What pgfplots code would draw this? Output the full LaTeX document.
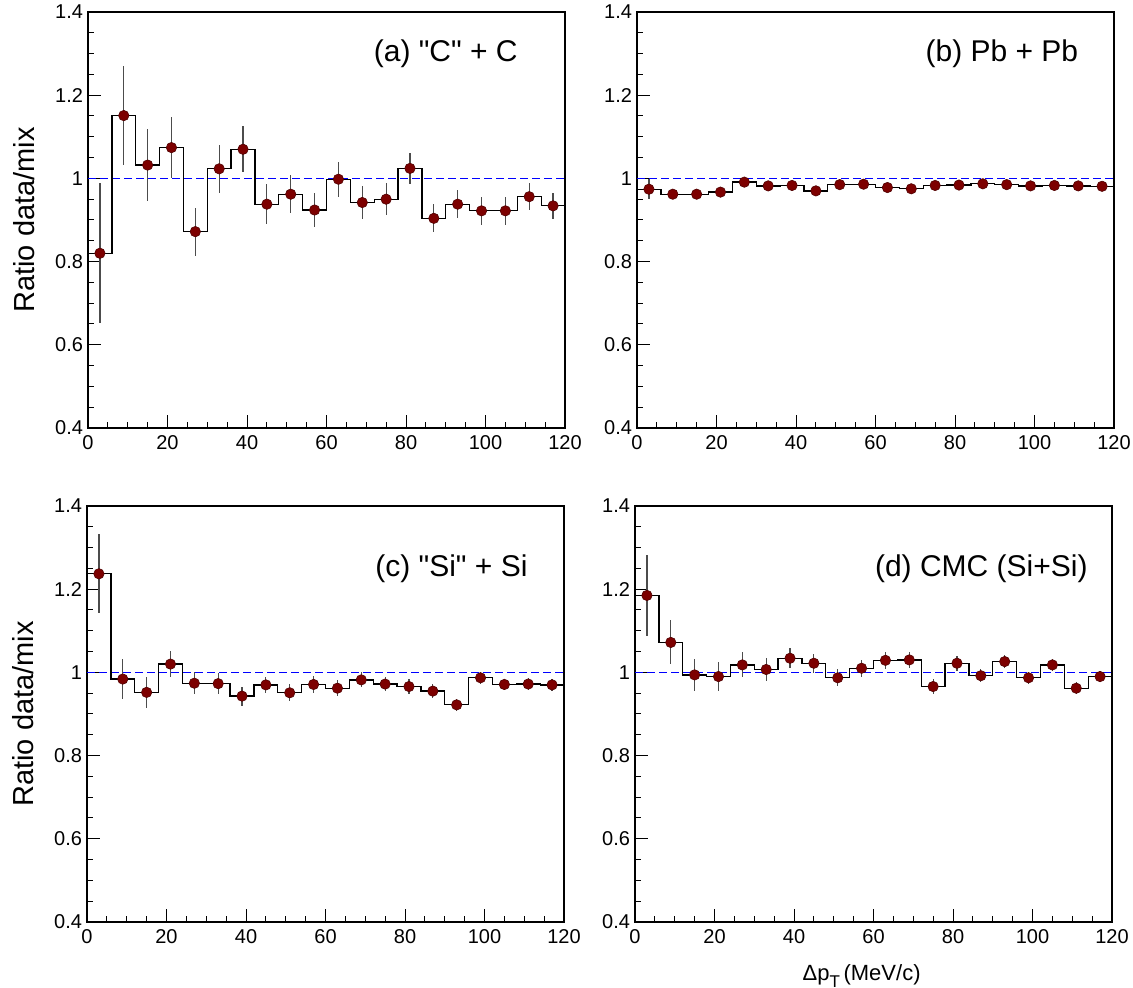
\documentclass[border=0pt]{standalone}
\usepackage{pgfplots}
\usepackage{pgfplotstable}
\pgfplotsset{compat=1.18}
\usepackage{fontspec}
\setmainfont{Liberation Sans}
\definecolor{ptred}{RGB}{125,0,0}
\definecolor{ptedge}{RGB}{80,0,0}
\font\pq="Liberation Sans" at 15pt
\newcommand{\dq}{{\pq"}}

\pgfplotstableread{
lo y e
0 0.820 0.168
6 1.151 0.120
12 1.032 0.086
18 1.074 0.073
24 0.872 0.058
30 1.023 0.058
36 1.070 0.055
42 0.938 0.048
48 0.962 0.045
54 0.924 0.042
60 0.998 0.042
66 0.942 0.040
72 0.950 0.038
78 1.024 0.038
84 0.904 0.034
90 0.938 0.034
96 0.922 0.033
102 0.922 0.033
108 0.956 0.032
114 0.934 0.031
120 0.934 0
}\dataA

\pgfplotstableread{
lo y e
0 0.974 0.024
6 0.962 0.006
12 0.962 0.006
18 0.967 0.006
24 0.991 0.006
30 0.982 0.005
36 0.983 0.005
42 0.970 0.005
48 0.985 0.005
54 0.986 0.005
60 0.978 0.005
66 0.975 0.005
72 0.983 0.005
78 0.984 0.005
84 0.987 0.005
90 0.985 0.005
96 0.982 0.005
102 0.983 0.005
108 0.982 0.005
114 0.981 0.005
120 0.981 0
}\dataB

\pgfplotstableread{
lo y e
0 1.237 0.095
6 0.984 0.048
12 0.952 0.037
18 1.020 0.032
24 0.974 0.027
30 0.973 0.025
36 0.943 0.023
42 0.970 0.020
48 0.951 0.020
54 0.971 0.020
60 0.962 0.019
66 0.982 0.018
72 0.972 0.017
78 0.966 0.017
84 0.955 0.016
90 0.922 0.015
96 0.987 0.015
102 0.971 0.014
108 0.972 0.014
114 0.970 0.014
120 0.970 0
}\dataC

\pgfplotstableread{
lo y e
0 1.185 0.097
6 1.072 0.053
12 0.994 0.039
18 0.990 0.034
24 1.018 0.030
30 1.007 0.027
36 1.034 0.024
42 1.022 0.023
48 0.987 0.020
54 1.010 0.020
60 1.029 0.020
66 1.030 0.020
72 0.966 0.017
78 1.022 0.018
84 0.992 0.015
90 1.026 0.016
96 0.987 0.015
102 1.018 0.015
108 0.962 0.014
114 0.990 0.013
120 0.990 0
}\dataD

\pgfplotsset{
  rootstyle/.style={
    scale only axis,
    width=238.5pt, height=208pt,
    anchor=south west,
    xmin=0, xmax=120, ymin=0.4, ymax=1.4,
    xtick={0,20,...,120}, ytick={0.4,0.6,...,1.41},
    minor x tick num=3, minor y tick num=3,
    tick align=inside, tick pos=left,
    major tick length=6.5pt, minor tick length=3.2pt,
    every tick/.style={black, line width=0.5pt},
    axis line style={line width=0.6pt},
    /pgf/number format/assume math mode=true,
    /pgf/number format/fixed,
    ticklabel style={font=\fontsize{10}{12}\selectfont},
    yticklabel style={xshift=1pt},
    ylabel style={font=\fontsize{14.5}{17}\selectfont, at={(axis description cs:-0.134,0.5)}, anchor=center},
    clip=true,
  },
  hist/.style={const plot mark left, black, line width=0.65pt, no marks},
  pts/.style={only marks, mark=*, mark size=2.6pt,
    mark options={fill=ptred, draw=ptedge, line width=0.3pt},
    skip coords between index={20}{21},
    error bars/.cd, y dir=both, y explicit, error mark=none,
    error bar style={line width=0.6pt, black!70}},
  unity/.style={color=blue, line width=0.8pt, dash pattern=on 4pt off 2pt, no marks},
}

\begin{document}
\begin{tikzpicture}
\path[use as bounding box] (0pt,0pt) rectangle (566.5pt,494pt);

% (a)
\begin{axis}[rootstyle, at={(44pt,280pt)}, ylabel={Ratio data/mix}]
\addplot[unity] coordinates {(0,1) (120,1)};
\addplot[hist] table[x=lo,y=y]{\dataA};
\addplot[pts] table[x expr=\thisrow{lo}+3, y=y, y error=e]{\dataA};
\node[font=\fontsize{15}{18}\selectfont] at (axis description cs:0.75,0.90) {(a) \dq C\dq\ + C};
\end{axis}

% (b)
\begin{axis}[rootstyle, at={(318.5pt,280pt)}]
\addplot[unity] coordinates {(0,1) (120,1)};
\addplot[hist] table[x=lo,y=y]{\dataB};
\addplot[pts] table[x expr=\thisrow{lo}+3, y=y, y error=e]{\dataB};
\node[font=\fontsize{15}{18}\selectfont] at (axis description cs:0.765,0.90) {(b) Pb + Pb};
\end{axis}

% (c)
\begin{axis}[rootstyle, at={(43.5pt,33pt)}, ylabel={Ratio data/mix}]
\addplot[unity] coordinates {(0,1) (120,1)};
\addplot[hist] table[x=lo,y=y]{\dataC};
\addplot[pts] table[x expr=\thisrow{lo}+3, y=y, y error=e]{\dataC};
\node[font=\fontsize{15}{18}\selectfont] at (axis description cs:0.764,0.849) {(c) \dq Si\dq\ + Si};
\end{axis}

% (d)
\begin{axis}[rootstyle, at={(317.5pt,33pt)},
  xlabel={\fontsize{11}{13}\selectfont Δp\raisebox{-0.55ex}{\fontsize{8.5}{10}\selectfont T}\,(MeV/c)},
  xlabel style={at={(axis description cs:0.475,-0.13)}, anchor=center}]
\addplot[unity] coordinates {(0,1) (120,1)};
\addplot[hist] table[x=lo,y=y]{\dataD};
\addplot[pts] table[x expr=\thisrow{lo}+3, y=y, y error=e]{\dataD};
\node[font=\fontsize{15}{18}\selectfont] at (axis description cs:0.726,0.849) {(d) CMC (Si+Si)};
\end{axis}
\end{tikzpicture}
\end{document}
